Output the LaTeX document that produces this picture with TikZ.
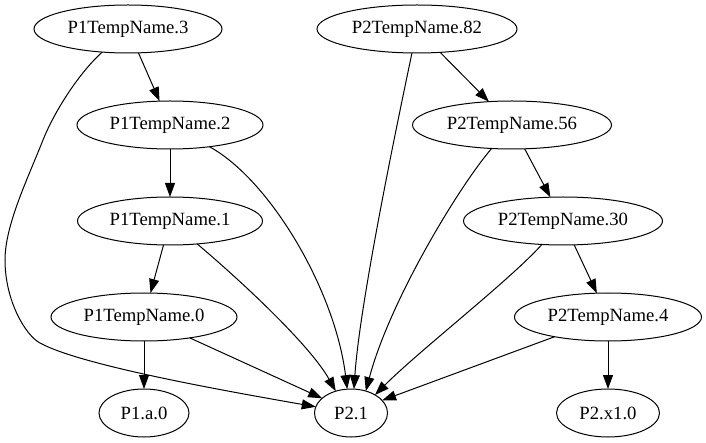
\documentclass[tikz,border=0pt]{standalone}
\usepackage{fontspec}
\setmainfont{Liberation Serif}
\newfontfamily\gvfont{Liberation Serif}
\usetikzlibrary{shapes.geometric,arrows.meta}
\begin{document}
\begin{tikzpicture}[x=1pt,y=-1pt,
  nd/.style={draw,ellipse,line width=1pt,inner sep=0pt,outer sep=0pt,
    minimum height=48pt,minimum width=#1,font=\gvfont\fontsize{18.7pt}{20pt}\selectfont},
  arr/.style={draw,line width=1pt,-{Triangle[length=14pt,width=10pt]}}]
\useasboundingbox (0,0) rectangle (706,443);
\node[nd=188pt] (p13) at (128,29) {P1TempName.3};
\node[nd=186pt] (p12) at (170,125) {P1TempName.2};
\node[nd=185pt] (p11) at (170,221) {P1TempName.1};
\node[nd=186pt] (p10) at (144,317) {P1TempName.0};
\node[nd=90pt] (pa0) at (144,413) {P1.a.0};
\node[nd=73pt] (p21) at (351,413) {P2.1};
\node[nd=200pt] (p82) at (417,29) {P2TempName.82};
\node[nd=199pt] (p56) at (512,125) {P2TempName.56};
\node[nd=199pt] (p30) at (563,221) {P2TempName.30};
\node[nd=187pt] (p4) at (608,317) {P2TempName.4};
\node[nd=103pt] (px10) at (608,413) {P2.x1.0};
% straight edges
\draw[arr] (p13) -- (p12);
\draw[arr] (p12) -- (p11);
\draw[arr] (p11) -- (p10);
\draw[arr] (p10) -- (pa0);
\draw[arr] (p82) -- (p56);
\draw[arr] (p56) -- (p30);
\draw[arr] (p30) -- (p4);
\draw[arr] (p4) -- (px10);
\draw[arr] (p10) -- (p21.153);
\draw[arr] (p4) -- (p21.22);
% curved edges into P2.1
\draw[arr] (p13) .. controls (80,72) and (55,110) .. (43,140)
  .. controls (28,178) and (5,225) .. (5,260)
  .. controls (5,300) and (25,335) .. (40,343)
  .. controls (80,365) and (220,390) .. (p21.170);
\draw[arr] (p12) .. controls (270,180) and (335,290) .. (p21.99);
\draw[arr] (p11) .. controls (240,280) and (310,345) .. (p21.125);
\draw[arr] (p82) .. controls (400,110) and (360,300) .. (p21.83);
\draw[arr] (p56) .. controls (460,185) and (390,300) .. (p21.56);
\draw[arr] (p30) .. controls (510,280) and (420,350) .. (p21.37);
\end{tikzpicture}
\end{document}
